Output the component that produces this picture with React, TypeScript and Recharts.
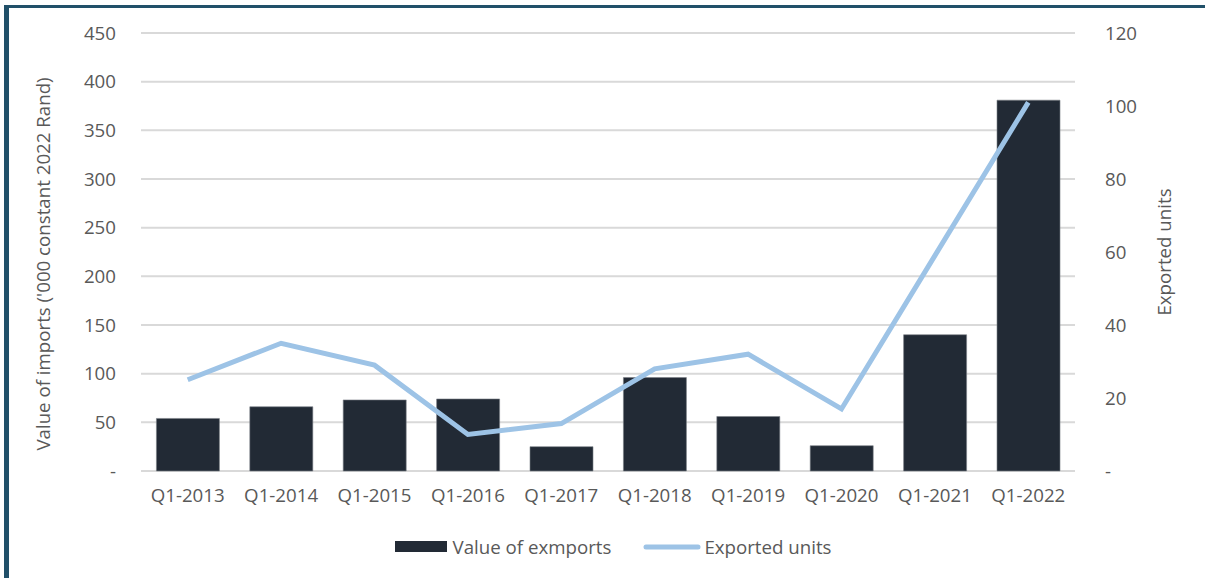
import React from 'react';
import { ComposedChart, Bar, Line, XAxis, YAxis, CartesianGrid, Legend } from 'recharts';

const quarters = ['Q1-2013', 'Q1-2014', 'Q1-2015', 'Q1-2016', 'Q1-2017', 'Q1-2018', 'Q1-2019', 'Q1-2020', 'Q1-2021', 'Q1-2022'];
const exportValue = [54, 66, 73, 74, 25, 96, 56, 26, 140, 381];
const exportedUnits = [25, 35, 29, 10, 13, 28, 32, 17, 59, 101];
const leftTicks = [0, 50, 100, 150, 200, 250, 300, 350, 400, 450];
const rightTicks = [0, 20, 40, 60, 80, 100, 120];

const data = quarters.map((q, i) => ({ q, value: exportValue[i], units: exportedUnits[i] }));

const FONT = '"Open Sans", sans-serif';
const TXT = '#595959';
const FS = 18.7;

const dashZero = (v: number) => (v === 0 ? '-' : String(v));

const LegendBox = () => (
  <div style={{ display: 'flex', justifyContent: 'center', alignItems: 'center', fontFamily: FONT, fontSize: FS, color: TXT, paddingLeft: 22, paddingTop: 6 }}>
    <span style={{ display: 'inline-block', width: 52, height: 11, background: '#222a35', marginRight: 5 }} />
    <span style={{ marginRight: 32 }}>Value of exmports</span>
    <svg width={58} height={10} style={{ marginRight: 3 }}>
      <line x1={3} y1={5} x2={55} y2={5} stroke="#9dc3e6" strokeWidth={5} strokeLinecap="round" />
    </svg>
    <span>Exported units</span>
  </div>
);

export default function App() {
  return (
    <div style={{ position: 'absolute', left: 0, top: 0, width: 1205, height: 578, background: '#fff', overflow: 'hidden' }}>
      <div style={{ position: 'absolute', left: 4, top: 5, width: 1300, height: 700, borderTop: '3px solid #215069', borderLeft: '5px solid #215069' }} />
      <div style={{ position: 'absolute', left: 0, top: 0 }}>
        <ComposedChart width={1205} height={578} data={data} margin={{ top: 33, right: 0, bottom: 10, left: 0 }} barCategoryGap="16.5%">
          <CartesianGrid vertical={false} stroke="#d9d9d9" strokeWidth={2} yAxisId="left" />
          <XAxis
            dataKey="q"
            height={57}
            tickLine={false}
            axisLine={false}
            tickMargin={12}
            tick={{ fill: TXT, fontSize: FS, fontFamily: FONT }}
            interval={0}
          />
          <YAxis
            yAxisId="left"
            width={141}
            domain={[0, 450]}
            ticks={leftTicks}
            tickFormatter={dashZero}
            tickLine={false}
            axisLine={false}
            tickMargin={19}
            tick={{ fill: TXT, fontSize: FS, fontFamily: FONT }}
            label={{
              content: ({ viewBox }: any) => {
                const cy = viewBox.y + viewBox.height / 2 + 12;
                return (
                  <text
                    x={42}
                    y={cy}
                    transform={`rotate(-90, 42, ${cy})`}
                    textAnchor="middle"
                    dominantBaseline="central"
                    fill={TXT}
                    fontSize={FS}
                    fontFamily={FONT}
                  >
                    Value of imports ('000 constant 2022 Rand)
                  </text>
                );
              },
            }}
          />
          <YAxis
            yAxisId="right"
            orientation="right"
            width={130}
            domain={[0, 120]}
            ticks={rightTicks}
            tickFormatter={dashZero}
            tickLine={false}
            axisLine={false}
            tickMargin={24}
            tick={{ fill: TXT, fontSize: FS, fontFamily: FONT }}
            label={{
              content: ({ viewBox }: any) => (
                <text
                  x={1163}
                  y={viewBox.y + viewBox.height / 2}
                  transform={`rotate(-90, 1163, ${viewBox.y + viewBox.height / 2})`}
                  textAnchor="middle"
                  dominantBaseline="central"
                  fill={TXT}
                  fontSize={FS}
                  fontFamily={FONT}
                >
                  Exported units
                </text>
              ),
            }}
          />
          <Legend verticalAlign="bottom" height={40} content={<LegendBox />} />
          <Bar yAxisId="left" dataKey="value" name="Value of exmports" fill="#222a35" stroke="#7a7f87" strokeWidth={0.6} isAnimationActive={false} />
          <Line yAxisId="right" dataKey="units" name="Exported units" type="linear" stroke="#9dc3e6" strokeWidth={5} dot={false} activeDot={false} isAnimationActive={false} />
        </ComposedChart>
      </div>
    </div>
  );
}
